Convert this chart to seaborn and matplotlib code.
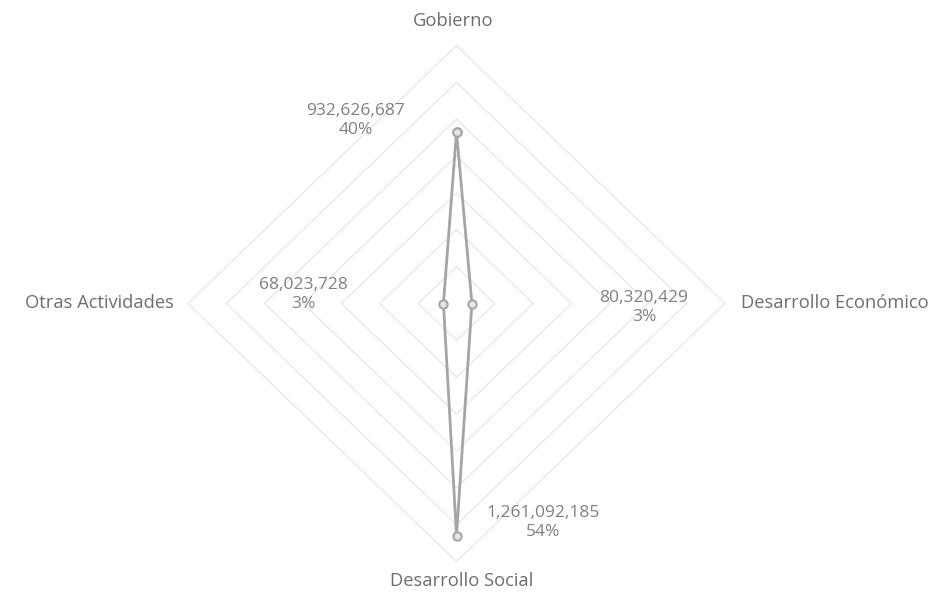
import numpy as np
import pandas as pd
import matplotlib
matplotlib.use("Agg")
import matplotlib.pyplot as plt
import seaborn as sns

# datos del radar
categorias = ["Gobierno", "Desarrollo Económico", "Desarrollo Social", "Otras Actividades"]
montos = [932626687, 80320429, 1261092185, 68023728]
porcentajes = ["40%", "3%", "54%", "3%"]
niveles = [200e6, 400e6, 600e6, 800e6, 1000e6, 1200e6, 1400e6]

sns.set_theme(style="white")
plt.rcParams["font.family"] = ["Open Sans", "DejaVu Sans"]

fig = plt.figure(figsize=(9.33, 5.92), dpi=100)
ax = fig.add_axes([0, 0, 1, 1])

# escala en pixeles (el radar de excel queda un poco estirado en x)
rmax = niveles[-1]
sx = rmax / 268.5
sy = rmax / 258.0
ax.set_xlim(-456.5 * sx, 476.5 * sx)
ax.set_ylim(-288.5 * sy, 303.5 * sy)

# angulos: arriba, derecha, abajo, izquierda
ang = np.array([0, 90, 180, 270]) * np.pi / 180
ux, uy = np.round(np.sin(ang), 12), np.round(np.cos(ang), 12)

# rejilla en rombos
for n in niveles:
    gx = np.append(n * ux, n * ux[0])
    gy = np.append(n * uy, n * uy[0])
    ax.plot(gx, gy, color="#e5e5e5", lw=0.9, zorder=1)

df = pd.DataFrame({"x": np.append(np.array(montos) * ux, montos[0] * ux[0]),
                   "y": np.append(np.array(montos) * uy, montos[0] * uy[0])})
sns.lineplot(data=df, x="x", y="y", sort=False, estimator=None, ax=ax,
             color="#a5a5a5", lw=2.0, marker="o", markersize=6,
             markerfacecolor="#e6e6e6", markeredgecolor="#a5a5a5",
             markeredgewidth=1.5, zorder=3)
ax.set_xlabel("")
ax.set_ylabel("")
ax.axis("off")

# etiquetas de datos
offs = [(-101, 11), (172, -4), (87, 13), (-140, 9)]
for i in range(4):
    txt = f"{montos[i]:,}\n{porcentajes[i]}"
    ax.annotate(txt, (montos[i] * ux[i], montos[i] * uy[i]), xytext=offs[i],
                textcoords="offset pixels", ha="center", va="center",
                fontsize=12.5, color="#808080", linespacing=1.25)

# etiquetas de categorias
cat_offs = [(-3, 25), (16, 1), (5, -20), (-14, 1)]
cat_ha = ["center", "left", "center", "right"]
for i in range(4):
    ax.annotate(categorias[i], (rmax * ux[i], rmax * uy[i]), xytext=cat_offs[i],
                textcoords="offset pixels", ha=cat_ha[i], va="center",
                fontsize=13.2, color="#6e6e6e")

fig.savefig("out.png", dpi=100, facecolor="white")
